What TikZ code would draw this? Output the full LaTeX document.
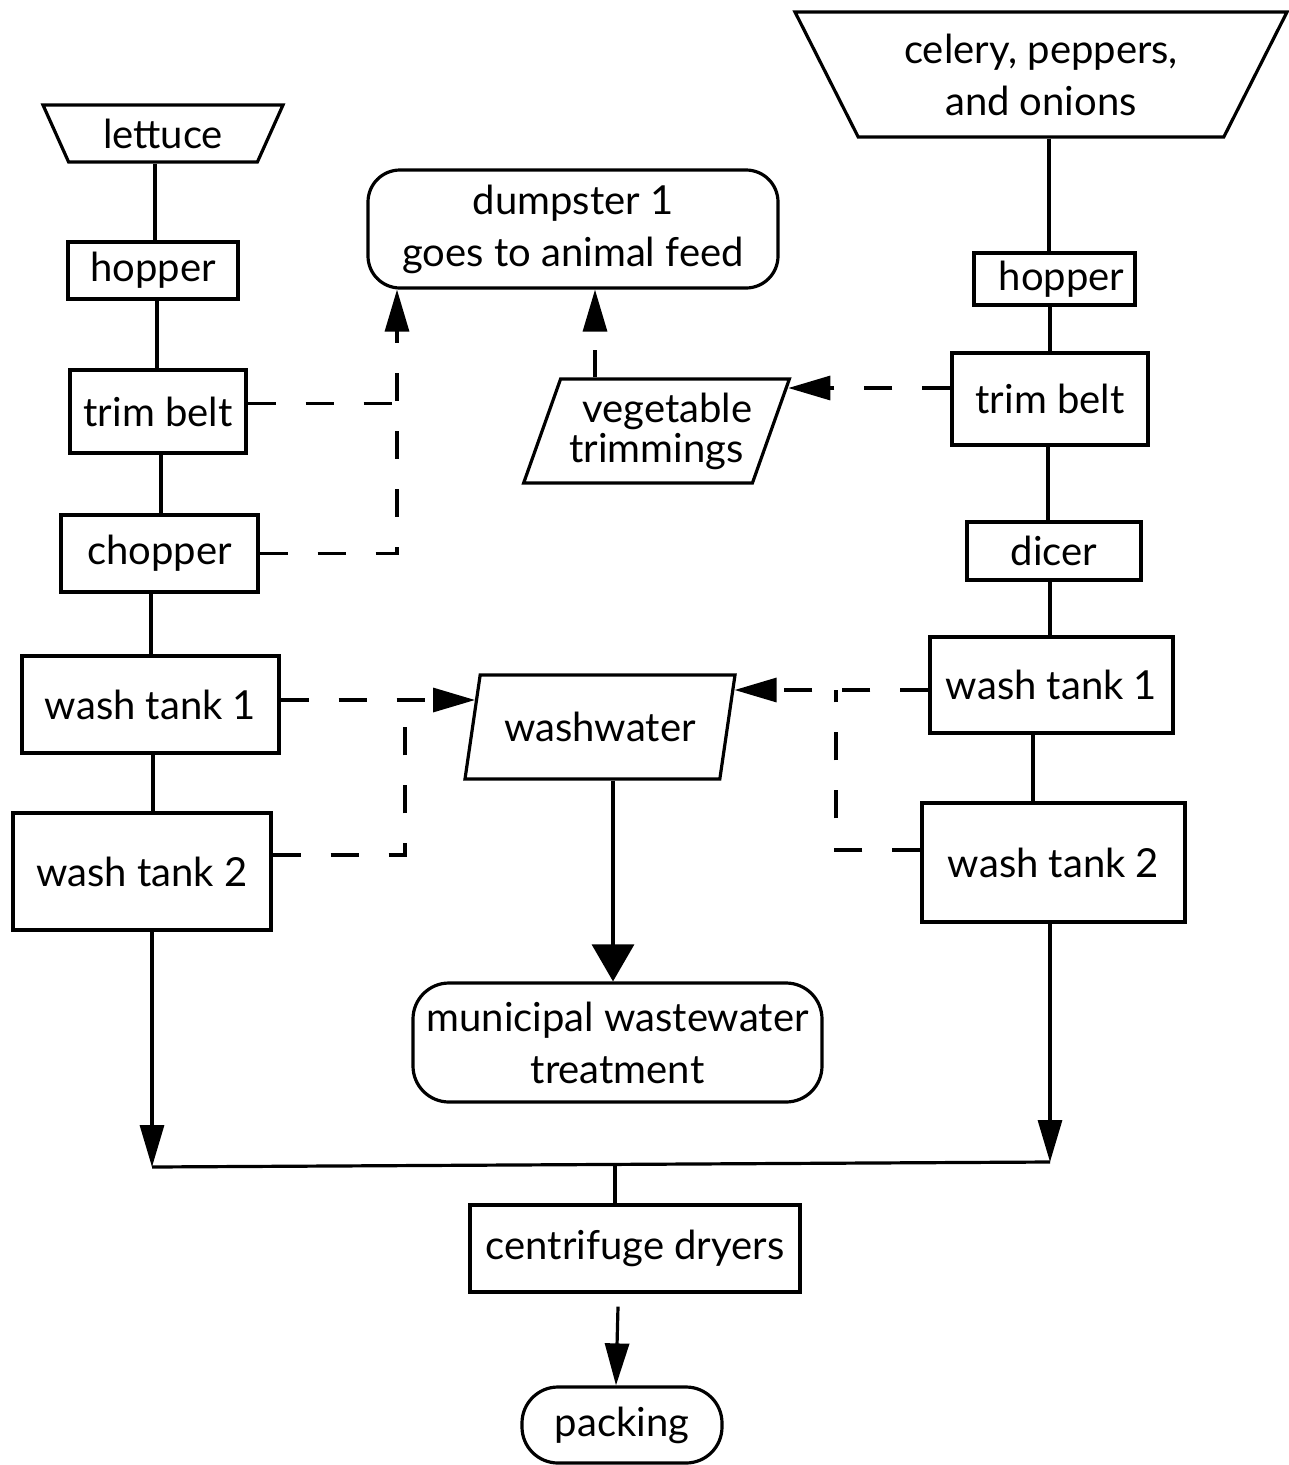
\documentclass[tikz,border=0pt]{standalone}
\usepackage{fontspec}
\setmainfont{Lato}
\usetikzlibrary{shapes.geometric,arrows.meta,calc}
\begin{document}
\begin{tikzpicture}[x=1pt,y=-1pt,
  every node/.style={font=\fontsize{40}{52}\selectfont, inner sep=0pt, align=center},
  box/.style={draw, line width=3.2pt, rectangle},
  term/.style={box, rounded corners=32pt},
  io/.style={draw, line width=3.2pt, trapezium, trapezium stretches body},
  link/.style={line width=3.2pt},
  dsh/.style={link, dash pattern=on 28pt off 30pt},
  arr/.style={-{Triangle[length=42pt,width=24pt]}},
]
\fill[white] (0,0) rectangle (1289,1465);
\useasboundingbox (0,0) rectangle (1289,1465);

% ---- left column
\node[io, minimum width=240pt, minimum height=57pt,
      trapezium left angle=130.7, trapezium right angle=130.7] (lettuce) at (163,133.5) {\raisebox{-3pt}{lettuce}};
\node[box, minimum width=170pt, minimum height=57pt] (hopperL) at (153,270.5) {hopper};
\node[box, minimum width=176pt, minimum height=83pt] (trimL) at (158,411.5) {trim belt};
\node[box, minimum width=197pt, minimum height=77pt] (chopper) at (159.5,553.5) {chopper};
\node[box, minimum width=257pt, minimum height=97pt] (wash1L) at (150.5,704.5) {wash tank 1};
\node[box, minimum width=258pt, minimum height=117pt] (wash2L) at (142,871.5) {wash tank 2};

% ---- right column
\node[io, minimum width=492pt, minimum height=125pt,
      trapezium left angle=127.7, trapezium right angle=127.7] (celery) at (1041,74.5)
      {celery, peppers,\\ and onions};
\node[box, minimum width=161pt, minimum height=52pt] (hopperR) at (1054.5,279) {\hspace*{14pt}hopper};
\node[box, minimum width=196pt, minimum height=92pt] (trimR) at (1050,399) {trim belt};
\node[box, minimum width=174pt, minimum height=58pt] (dicer) at (1054,551) {dicer};
\node[box, minimum width=243pt, minimum height=96pt] (wash1R) at (1051.5,685) {wash tank 1};
\node[box, minimum width=263pt, minimum height=119pt] (wash2R) at (1053.5,862.5) {wash tank 2};

% ---- middle
\node[term, minimum width=410pt, minimum height=118pt] (dump) at (573,229)
      {dumpster 1\\ goes to animal feed};
\node[io, minimum width=253pt, minimum height=104pt,
      trapezium left angle=64.3, trapezium right angle=115.7,
      font=\fontsize{40}{40}\selectfont] (vt) at (656.5,431)
      {\hspace*{22pt}vegetable\\ trimmings};
\node[io, minimum width=270pt, minimum height=104pt,
      trapezium left angle=63, trapezium right angle=117] (ww) at (600,727) {washwater};
\node[term, minimum width=409pt, minimum height=119pt, rounded corners=36pt] (muni) at (617.5,1042.5)
      {municipal wastewater\\ treatment};
\node[box, minimum width=330pt, minimum height=87pt] (cent) at (635,1248.5) {centrifuge dryers};
\node[term, minimum width=200pt, minimum height=76pt, rounded corners=36pt] (pack) at (622,1425) {packing};

% ---- column coordinates
\coordinate (cA) at (155,0);
\coordinate (cB) at (157,0);
\coordinate (cC) at (161,0);
\coordinate (cD) at (151,0);
\coordinate (cE) at (153,0);
\coordinate (rA) at (1049,0);
\coordinate (rB) at (1050,0);
\coordinate (rC) at (1048,0);
\coordinate (rD) at (1050,0);
\coordinate (rE) at (1033,0);
\coordinate (mL) at (152,1167);
\coordinate (mR) at (1050,1162);
\coordinate (mC) at (615,1165);

% ---- solid process lines
\draw[link] (lettuce.south -| cA) -- (hopperL.north -| cA);
\draw[link] (hopperL.south -| cB) -- (trimL.north -| cB);
\draw[link] (trimL.south -| cC) -- (chopper.north -| cC);
\draw[link] (chopper.south -| cD) -- (wash1L.north -| cD);
\draw[link] (wash1L.south -| cE) -- (wash2L.north -| cE);
\draw[link, arr] (wash2L.south -| mL) -- (mL);

\draw[link] (celery.south -| rA) -- (hopperR.north -| rA);
\draw[link] (hopperR.south -| rB) -- (trimR.north -| rB);
\draw[link] (trimR.south -| rC) -- (dicer.north -| rC);
\draw[link] (dicer.south -| rD) -- (wash1R.north -| rD);
\draw[link] (wash1R.south -| rE) -- (wash2R.north -| rE);
\draw[link, arr] (wash2R.south -| mR) -- (mR);

\draw[link] (mL) -- (mR);
\draw[link] (mC) -- (mC |- cent.north);
\coordinate (cOut) at ($(cent.south)+(-17,13)$);
\draw[link, arr] (cOut) -- ($(pack.north)+(-6,0)$);

% ---- trimmings to dumpster
\coordinate (vL) at (397,0);
\coordinate (tLe) at ([yshift=8pt]trimL.east);
\draw[dsh] (tLe) -- (tLe -| vL);
\draw[dsh, arr] (chopper.east) -- (chopper.east -| vL) -- (vL |- dump.south);

\coordinate (vD) at (595,0);
\draw[link, dash pattern=on 27pt off 20pt, arr] (vt.north -| vD) -- (vD |- dump.south);

\coordinate (tRw) at ([yshift=11pt]trimR.west);
\coordinate (vtR) at ($(vt.top right corner)!0.087!(vt.bottom right corner)$);
\draw[dsh, arr] (tRw) -- (tRw -| vtR);

% ---- washwater
\coordinate (vW) at (405,0);
\coordinate (w1Le) at ([yshift=4.5pt]wash1L.east);
\coordinate (w2Le) at ([yshift=16.5pt]wash2L.east);
\coordinate (wwL) at ($(ww.top left corner)!0.24!(ww.bottom left corner)$);
\draw[dsh, arr] (w1Le) -- (w1Le -| wwL);
\draw[dsh] (w2Le) -- (w2Le -| vW) -- (vW |- w1Le);

\coordinate (vR) at (836,0);
\coordinate (w1Rw) at ([yshift=-5pt]wash1R.west);
\coordinate (w2Rw) at ([yshift=12.5pt]wash2R.west);
\coordinate (wwR) at ($(ww.top right corner)!0.144!(ww.bottom right corner)$);
\draw[dsh, arr] (w1Rw) -- (w1Rw -| wwR);
\draw[dsh] (w2Rw) -- (w2Rw -| vR) -- (vR |- w1Rw);

\coordinate (wD) at (613,0);
\draw[link, -{Triangle[length=37pt,width=42pt]}] (ww.south -| wD) -- (muni.north -| wD);
\end{tikzpicture}
\end{document}
